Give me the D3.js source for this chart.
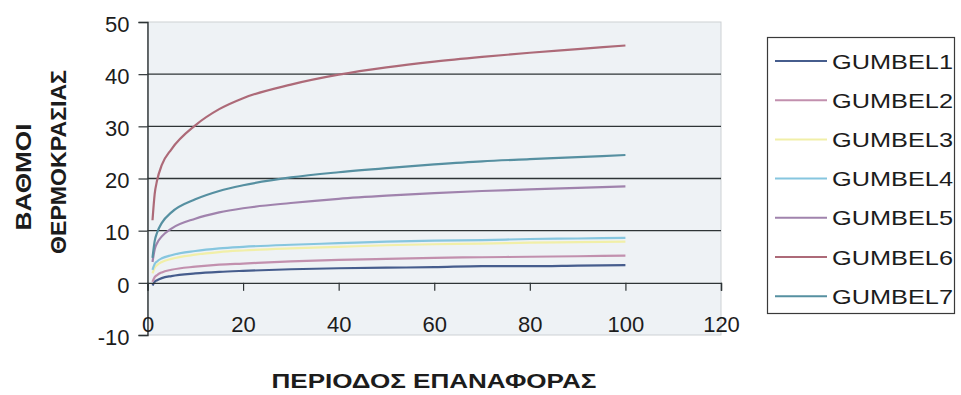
<!DOCTYPE html>
<html>
<head>
<meta charset="utf-8">
<script src="https://cdn.jsdelivr.net/npm/d3@7"></script>
<style>
  html, body { margin: 0; padding: 0; background: #ffffff; }
  svg { display: block; }
  text { font-family: "Liberation Sans", Arial, sans-serif; fill: #1c1c1c; }
</style>
</head>
<body>
<svg id="chart" width="961" height="395"></svg>
<script>
// Return period (years) on the horizontal axis
const returnPeriods = [1.05, 1.5, 2, 3, 5, 10, 15, 20, 30, 40, 50, 60, 70, 80, 90, 100];

// Temperature (degrees) for each Gumbel fit
const gumbel1 = [-0.5, 0.2, 0.5, 0.9, 1.3, 1.8, 2.1, 2.3, 2.6, 2.8, 2.9, 3.0, 3.2, 3.2, 3.3, 3.4];
const gumbel2 = [0.2, 1.1, 1.5, 2.0, 2.5, 3.1, 3.5, 3.7, 4.1, 4.4, 4.6, 4.8, 4.9, 5.0, 5.1, 5.2];
const gumbel3 = [1.8, 2.9, 3.4, 4.0, 4.6, 5.4, 5.9, 6.2, 6.6, 6.9, 7.2, 7.4, 7.5, 7.7, 7.8, 7.9];
const gumbel4 = [2.5, 3.6, 4.1, 4.7, 5.3, 6.1, 6.6, 6.9, 7.3, 7.6, 7.9, 8.1, 8.2, 8.4, 8.5, 8.6];
const gumbel5 = [4.0, 6.4, 7.6, 8.9, 10.4, 12.3, 13.5, 14.3, 15.3, 16.1, 16.7, 17.2, 17.6, 17.9, 18.2, 18.5];
const gumbel6 = [12.0, 17.0, 19.6, 22.6, 25.6, 30.2, 33.3, 35.4, 38.0, 39.9, 41.3, 42.4, 43.3, 44.1, 44.8, 45.5];
const gumbel7 = [4.8, 8.0, 9.6, 11.5, 13.5, 16.0, 17.6, 18.7, 20.2, 21.2, 22.0, 22.7, 23.3, 23.7, 24.1, 24.5];

const seriesNames = ["GUMBEL1", "GUMBEL2", "GUMBEL3", "GUMBEL4", "GUMBEL5", "GUMBEL6", "GUMBEL7"];
const seriesValues = [gumbel1, gumbel2, gumbel3, gumbel4, gumbel5, gumbel6, gumbel7];
const seriesColors = ["#465d8d", "#c290ae", "#f1efa8", "#86c6df", "#a083ad", "#ad6a78", "#5690a1"];

const xTicks = [0, 20, 40, 60, 80, 100, 120];
const yTicks = [-10, 0, 10, 20, 30, 40, 50];
const gridValues = [10, 20, 30, 40];

const xTitle = "ΠΕΡΙΟΔΟΣ ΕΠΑΝΑΦΟΡΑΣ";
const yTitleLines = ["ΒΑΘΜΟΙ", "ΘΕΡΜΟΚΡΑΣΙΑΣ"];

const svg = d3.select("#chart");

const plot = { left: 147.5, right: 721, top: 22, bottom: 335 };
const x = d3.scaleLinear().domain([0, 120]).range([plot.left, plot.right]);
const y = d3.scaleLinear().domain([-10, 50]).range([plot.bottom, plot.top]);

// Plot area
svg.append("rect")
  .attr("x", plot.left).attr("y", plot.top)
  .attr("width", plot.right - plot.left).attr("height", plot.bottom - plot.top)
  .attr("fill", "#eef2f5")
  .attr("stroke", "#cdd1d4").attr("stroke-width", 1);

// Horizontal gridlines
svg.append("g").selectAll("line").data(gridValues).join("line")
  .attr("x1", plot.left).attr("x2", plot.right)
  .attr("y1", d => y(d)).attr("y2", d => y(d))
  .attr("stroke", "#2e3436").attr("stroke-width", 1.4);

// Series lines
const line = d3.line()
  .x((d, i) => x(returnPeriods[i]))
  .y(d => y(d))
  .curve(d3.curveMonotoneX);

svg.append("g").selectAll("path").data(seriesValues).join("path")
  .attr("d", d => line(d))
  .attr("fill", "none")
  .attr("stroke", (d, i) => seriesColors[i])
  .attr("stroke-width", 2.2)
  .attr("stroke-linejoin", "round");

const plainNumber = d => String(d);

// Y axis
const yAxis = svg.append("g")
  .attr("transform", `translate(${plot.left},0)`)
  .call(d3.axisLeft(y).tickValues(yTicks).tickSize(9).tickPadding(9).tickFormat(plainNumber));
yAxis.select(".domain").attr("stroke", "#2e3436").attr("stroke-width", 1.4);
yAxis.selectAll(".tick line").attr("stroke", "#2e3436").attr("stroke-width", 1.2);
yAxis.selectAll(".tick text")
  .style("font-family", "'Liberation Sans', Arial, sans-serif")
  .style("font-size", "22px").attr("fill", "#1c1c1c").attr("dy", "0.42em");

// X axis, crossing at zero
const xAxis = svg.append("g")
  .attr("transform", `translate(0,${y(0)})`)
  .call(d3.axisBottom(x).tickValues(xTicks).tickSize(8).tickPadding(26).tickFormat(plainNumber));
xAxis.select(".domain").attr("stroke", "#2e3436").attr("stroke-width", 1.4);
xAxis.selectAll(".tick line").attr("stroke", "#2e3436").attr("stroke-width", 1.2);
xAxis.selectAll(".tick text")
  .style("font-family", "'Liberation Sans', Arial, sans-serif")
  .style("font-size", "22px").attr("fill", "#1c1c1c");

// Axis titles
svg.append("text")
  .attr("x", 434).attr("y", 388)
  .attr("text-anchor", "middle")
  .attr("font-size", 20).attr("font-weight", "bold")
  .attr("textLength", 325).attr("lengthAdjust", "spacingAndGlyphs")
  .text(xTitle);

svg.append("text")
  .attr("transform", "translate(31,177) rotate(-90)")
  .attr("text-anchor", "middle")
  .attr("font-size", 22).attr("font-weight", "bold")
  .attr("textLength", 107).attr("lengthAdjust", "spacingAndGlyphs")
  .text(yTitleLines[0]);

svg.append("text")
  .attr("transform", "translate(66,162) rotate(-90)")
  .attr("text-anchor", "middle")
  .attr("font-size", 22).attr("font-weight", "bold")
  .attr("textLength", 184).attr("lengthAdjust", "spacingAndGlyphs")
  .text(yTitleLines[1]);

// Legend
const legend = svg.append("g");
legend.append("rect")
  .attr("x", 767.5).attr("y", 37.5).attr("width", 187).attr("height", 276)
  .attr("fill", "#ffffff").attr("stroke", "#3a3a3a").attr("stroke-width", 1.2);

const items = legend.selectAll("g.item").data(seriesNames).join("g")
  .attr("class", "item")
  .attr("transform", (d, i) => `translate(0,${61 + i * 39.2})`);
items.append("line")
  .attr("x1", 775).attr("x2", 827).attr("y1", 0).attr("y2", 0)
  .attr("stroke", (d, i) => seriesColors[i]).attr("stroke-width", 2);
items.append("text")
  .attr("x", 832).attr("y", 7.5)
  .attr("font-size", 21)
  .attr("textLength", 121).attr("lengthAdjust", "spacingAndGlyphs")
  .text(d => d);
</script>
</body>
</html>
